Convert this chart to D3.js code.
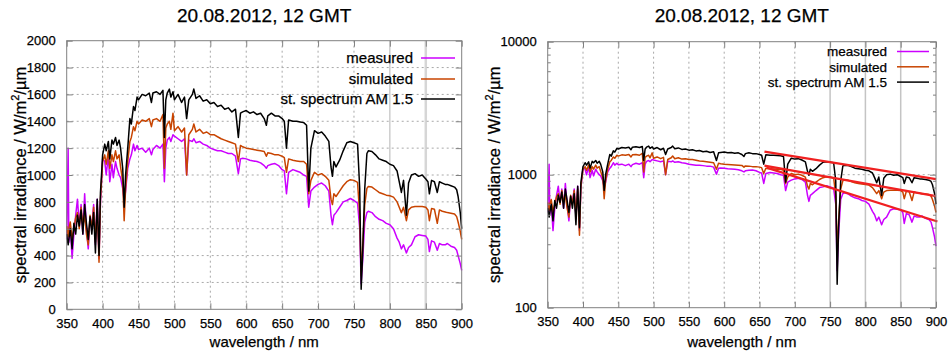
<!DOCTYPE html>
<html>
<head>
<meta charset="utf-8">
<script src="https://cdn.jsdelivr.net/npm/d3@7"></script>
<style>
  body { margin: 0; background: #fff; }
  svg text { font-family: "Liberation Sans", Arial, sans-serif; fill: #000; stroke: #000; stroke-width: 0.25px; }
  .tick text { font-size: 13px; }
  .tick line { stroke: #808080; }
</style>
</head>
<body>
<svg id="chart" width="948" height="353"></svg>
<script>
// wavelength grid (nm), shared by all three spectra
const wavelength = [
  350, 352, 353, 355, 357.5, 360, 362.5, 365, 367.5, 370,
  372.5, 375, 377.5, 380, 382.5, 385, 387.5, 390, 392.5, 395,
  397, 399, 400, 403, 405, 408, 410, 413, 415, 418,
  420, 423, 425, 428, 430, 432, 435, 438, 440, 443,
  445, 448, 450, 455, 460, 465, 468, 470, 475, 480,
  484, 486, 488, 490, 493, 495, 498, 500, 505, 510,
  514, 517, 520, 525, 527, 530, 535, 540, 545, 550,
  555, 560, 565, 570, 575, 580, 585, 589, 592, 595,
  600, 605, 610, 615, 620, 625, 628, 630, 635, 640,
  645, 650, 653, 656, 659, 665, 670, 675, 680, 684,
  687, 690, 695, 700, 705, 710, 715, 718, 720, 722,
  725, 730, 735, 740, 745, 750, 755, 758, 760, 762,
  765, 768, 770, 775, 780, 785, 790, 795, 800, 805,
  810, 813, 816, 819, 823, 826, 830, 835, 840, 845,
  850, 853, 855, 858, 862, 866, 869, 873, 877, 880,
  885, 890, 893, 895, 898, 900
];

// spectral irradiance, W/m2/um
const measured = [
  520, 1200, 500, 620, 380, 560, 700, 820, 620, 780,
  560, 860, 600, 450, 680, 620, 780, 480, 820, 380,
  800, 1000, 1120, 1100, 1000, 1150, 950, 1080, 980, 1100,
  1050, 1000, 980, 900, 800, 880, 1050, 1120, 1150, 1230,
  1180, 1220, 1190, 1200, 1170, 1200, 1150, 1190, 1220, 1200,
  1230, 950, 1200, 1260, 1280, 1250, 1300, 1290, 1270, 1250,
  1270, 1000, 1260, 1250, 1270, 1240, 1250, 1230, 1220, 1200,
  1190, 1180, 1180, 1170, 1160, 1160, 1140, 1010, 1120, 1125,
  1120, 1110, 1105, 1100, 1090, 1070, 1050, 1070, 1080, 1085,
  1070, 1040, 1030, 860, 1020, 1040, 1030, 1020, 1000, 990,
  760, 880, 910, 930, 940, 920, 880, 700, 630, 700,
  720, 760, 800, 810, 825, 810, 790, 600, 190, 350,
  650, 720, 730, 720, 690, 670, 660, 640, 630, 600,
  530, 500, 450, 480, 420, 460, 480, 540, 555, 550,
  545, 520, 430, 510, 500, 440, 490, 480, 480, 490,
  470, 460, 440, 400, 340, 290
];

const simulated = [
  620, 540, 600, 650, 520, 600, 680, 720, 600, 760,
  620, 700, 560, 480, 700, 600, 760, 500, 780, 350,
  820, 1000, 1100, 1150, 1080, 1180, 1050, 1150, 1100, 1180,
  1120, 1150, 1060, 950, 660, 900, 1100, 1250, 1280, 1360,
  1330, 1400, 1380, 1410, 1400, 1420, 1360, 1410, 1420, 1400,
  1450, 1050, 1350, 1380, 1400, 1340, 1460, 1330, 1360, 1320,
  1350, 1000, 1300, 1340, 1380, 1320, 1340, 1310, 1320, 1300,
  1300, 1285, 1270, 1260, 1250, 1240, 1230, 1100, 1220, 1210,
  1200, 1195, 1190, 1185, 1180, 1175, 1140, 1165, 1160, 1150,
  1150, 1140, 1130, 1020, 1120, 1110, 1105, 1100, 1100, 1080,
  860, 960, 1020, 1000, 1010, 990, 960, 820, 780, 860,
  840, 880, 920, 950, 965, 960, 945, 700, 250, 450,
  780, 900, 915, 910, 890, 870, 860, 850, 845, 835,
  800, 760, 720, 760, 660, 740, 760, 765, 765, 765,
  760, 740, 660, 750, 745, 640, 740, 730, 725, 720,
  715, 710, 690, 650, 580, 520
];

const standard = [
  560, 480, 520, 600, 450, 640, 560, 700, 620, 740,
  560, 780, 640, 520, 690, 560, 720, 420, 820, 400,
  870, 1050, 1150, 1230, 1180, 1250, 1120, 1260, 1230, 1280,
  1220, 1260, 1200, 1050, 760, 1000, 1200, 1420, 1380, 1510,
  1480, 1580, 1560, 1600, 1590, 1610, 1540, 1610, 1620, 1600,
  1630, 1280, 1560, 1610, 1640, 1580, 1620, 1560, 1600, 1540,
  1580, 1420, 1560, 1600, 1640, 1570, 1590, 1550, 1560, 1530,
  1540, 1510, 1520, 1490, 1500, 1470, 1490, 1280, 1460, 1470,
  1480, 1460, 1470, 1450, 1460, 1420, 1370, 1440, 1460, 1440,
  1440, 1420, 1400, 1200, 1410, 1400, 1400, 1395, 1390, 1370,
  880, 1200, 1330, 1310, 1320, 1290, 1250, 1060, 990, 1100,
  1060, 1110, 1180, 1240, 1250, 1240, 1230, 900, 150, 400,
  900, 1160, 1180, 1175, 1150, 1120, 1110, 1100, 1080, 1070,
  1030, 950, 870, 960, 700, 940, 1000, 1010, 990, 1000,
  970, 950, 860, 960, 950, 870, 950, 940, 930, 930,
  920, 910, 890, 840, 720, 600
];

// red trend lines on the log plot: [wavelength, irradiance] end points
const fitStandard = [[657, 1490], [900, 925]];
const fitSimulated = [[657, 1170], [900, 690]];
const fitMeasured = [[660, 1130], [902, 445]];

const xTicks = [350, 400, 450, 500, 550, 600, 650, 700, 750, 800, 850, 900];
const yTicksLinear = [0, 200, 400, 600, 800, 1000, 1200, 1400, 1600, 1800, 2000];
const yTicksLog = [100, 1000, 10000];
const yMinorLog = [200, 300, 400, 500, 600, 700, 800, 900, 2000, 3000, 4000, 5000, 6000, 7000, 8000, 9000];

const seriesNames = ["measured", "simulated", "st. spectrum AM 1.5"];
const seriesColors = ["#cc00ff", "#c84400", "#000000"];
const seriesValues = [measured, simulated, standard];

const svg = d3.select("#chart");

function drawPanel(p) {
  const x = d3.scaleLinear().domain([350, 900]).range([p.left, p.right]);
  const y = (p.log ? d3.scaleLog() : d3.scaleLinear())
      .domain(p.log ? [100, 10000] : [0, 2000])
      .range([p.bottom, p.top]);

  const g = svg.append("g");

  // grid
  const grid = g.append("g");
  grid.selectAll("line.v")
    .data(xTicks.slice(1, -1))
    .enter().append("line")
      .attr("x1", d => x(d)).attr("x2", d => x(d))
      .attr("y1", p.top).attr("y2", p.bottom)
      .attr("stroke", d => p.solid[d] ? p.solid[d][0] : "#a8a8a8")
      .attr("stroke-width", d => p.solid[d] ? p.solid[d][1] : 1)
      .attr("stroke-dasharray", d => p.solid[d] ? null : "2,3");
  grid.selectAll("line.h")
    .data(p.hGrid)
    .enter().append("line")
      .attr("x1", p.left).attr("x2", p.right)
      .attr("y1", d => y(d)).attr("y2", d => y(d))
      .attr("stroke", "#a8a8a8")
      .attr("stroke-dasharray", "2,3");

  // spectra
  const line = d3.line()
    .x((d, i) => x(wavelength[i]))
    .y(d => y(d));
  seriesValues.forEach((vals, k) => {
    g.append("path")
      .datum(vals)
      .attr("fill", "none")
      .attr("stroke", seriesColors[k])
      .attr("stroke-width", 1.5)
      .attr("stroke-linejoin", "round")
      .attr("d", line);
  });

  // fit lines
  if (p.fits) {
    const fl = d3.line().x(d => x(d[0])).y(d => y(d[1]));
    [fitStandard, fitSimulated, fitMeasured].forEach(f => {
      g.append("path")
        .datum(f)
        .attr("fill", "none")
        .attr("stroke", "#f02020")
        .attr("stroke-width", 2.2)
        .attr("d", fl);
    });
  }

  // border
  g.append("rect")
    .attr("x", p.left).attr("y", p.top)
    .attr("width", p.right - p.left).attr("height", p.bottom - p.top)
    .attr("fill", "none").attr("stroke", "#808080");

  // axes (gnuplot style: inward ticks, mirrored)
  g.append("g").attr("transform", `translate(0,${p.bottom})`)
    .call(d3.axisBottom(x).tickValues(xTicks).tickSize(-6).tickPadding(9).tickFormat(d3.format("d")));
  g.append("g").attr("transform", `translate(0,${p.top})`)
    .call(d3.axisTop(x).tickValues(xTicks).tickSize(-6).tickFormat(""));
  g.append("g").attr("transform", `translate(${p.left},0)`)
    .call(d3.axisLeft(y).tickValues(p.yTicks).tickSize(-6).tickPadding(11).tickFormat(d3.format("d")));
  g.append("g").attr("transform", `translate(${p.right},0)`)
    .call(d3.axisRight(y).tickValues(p.yTicks).tickSize(-6).tickFormat(""));
  if (p.log) {
    g.append("g").attr("transform", `translate(${p.left},0)`)
      .call(d3.axisLeft(y).tickValues(yMinorLog).tickSize(-3).tickFormat(""));
    g.append("g").attr("transform", `translate(${p.right},0)`)
      .call(d3.axisRight(y).tickValues(yMinorLog).tickSize(-3).tickFormat(""));
  }
  g.selectAll(".domain").remove();

  // title
  g.append("text")
    .attr("x", (p.left + p.right) / 2).attr("y", 22)
    .attr("text-anchor", "middle")
    .style("font-size", "19px")
    .text("20.08.2012, 12 GMT");

  // axis labels
  g.append("text")
    .attr("x", (p.left + p.right) / 2).attr("y", 347)
    .attr("text-anchor", "middle")
    .style("font-size", "15px")
    .text("wavelength / nm");
  const yl = g.append("text")
    .attr("transform", `translate(${p.yLabelX},${(p.top + p.bottom) / 2}) rotate(-90)`)
    .attr("text-anchor", "middle")
    .style("font-size", "16.5px");
  yl.append("tspan").text("spectral irradiance / W/m");
  yl.append("tspan").attr("dy", -7).style("font-size", "11px").text("2");
  yl.append("tspan").attr("dy", 7).text("/µm");

  // legend
  const lg = g.append("g");
  seriesNames.forEach((name, k) => {
    const cy = p.legendRows[k];
    lg.append("text")
      .attr("x", p.legendText).attr("y", cy + p.legendSize * 0.35)
      .attr("text-anchor", "end")
      .style("font-size", p.legendSize + "px")
      .text(name);
    lg.append("line")
      .attr("x1", p.legendLine[0]).attr("x2", p.legendLine[1])
      .attr("y1", cy).attr("y2", cy)
      .attr("stroke", seriesColors[k])
      .attr("stroke-width", 1.5);
  });
}

drawPanel({
  left: 66.7, right: 461.7, top: 40.7, bottom: 309.3,
  log: false, yTicks: yTicksLinear, hGrid: yTicksLinear.slice(1, -1),
  solid: {800: ["#b4b4b4", 1], 850: ["#d6d6d6", 2.5]}, yLabelX: 26,
  legendText: 413, legendLine: [421, 455], legendRows: [58, 79, 99], legendSize: 15
});

drawPanel({
  left: 547.7, right: 936, top: 41.7, bottom: 307.7,
  log: true, yTicks: yTicksLog, hGrid: [1000],
  solid: {750: ["#c4c4c4", 1.5], 800: ["#c4c4c4", 1.5], 850: ["#c4c4c4", 1.5]}, yLabelX: 500, fits: true,
  legendText: 887, legendLine: [897, 929], legendRows: [51.5, 66.8, 82.1], legendSize: 13.5
});
</script>
</body>
</html>
